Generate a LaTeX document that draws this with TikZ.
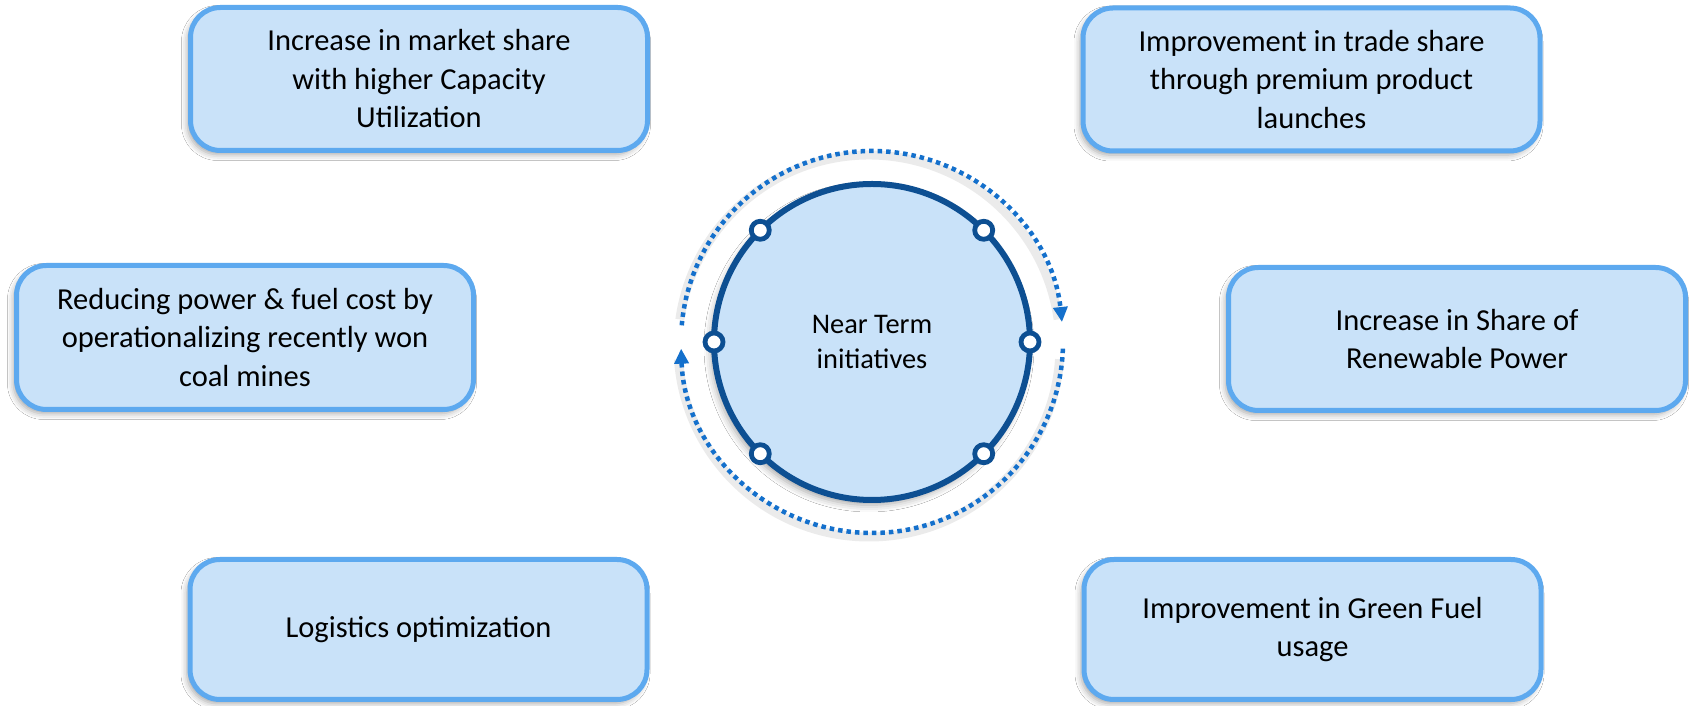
\documentclass[tikz,border=0pt]{standalone}
\usepackage{fontspec}
\setmainfont{Carlito}
\usetikzlibrary{shadows.blur,arrows.meta}
\definecolor{boxfill}{HTML}{C9E2F9}
\definecolor{boxline}{HTML}{5DA9EF}
\definecolor{ringline}{HTML}{0D4F92}
\definecolor{arcline}{HTML}{1470CC}
\begin{document}
\begin{tikzpicture}[x=1pt,y=1pt,
  card/.style={draw=boxline, fill=boxfill, line width=5pt, rounded corners=30pt,
    minimum width=457pt, minimum height=143pt, align=center, inner sep=0pt,
    font=\fontsize{30.5}{38.5}\selectfont,
    blur shadow={shadow xshift=-3pt, shadow yshift=-4pt, shadow blur radius=6pt, shadow opacity=35}},
  hubstyle/.style={circle, draw=ringline, fill=boxfill, line width=6pt, minimum size=316pt,
    inner sep=0pt, outer sep=0pt, align=center, font=\fontsize{28.4}{35}\selectfont,
    blur shadow={shadow xshift=-3pt, shadow yshift=-5pt, shadow blur radius=7pt, shadow opacity=35}},
  knob/.style={circle, draw=ringline, fill=white, line width=4.8pt, minimum size=18pt, inner sep=0pt},
  cyclearc/.style={draw=arcline, line width=4.5pt, dash pattern=on 4.5pt off 4pt},
  arcshade/.style={draw=black, opacity=0.08, line width=9pt},
  tip/.style={-{Triangle[length=15pt,width=14pt]}}
]
\fill[white] (0,0) rectangle (1689,706);
\useasboundingbox (0,0) rectangle (1689,706);

\node[card] (b1) at (419,627) {Increase in market share\\with higher Capacity\\Utilization};
\node[card] (b2) at (1311.5,626.5) {Improvement in trade share\\through premium product\\launches};
\node[card, minimum height=144pt] (b3) at (245,368.5) {Reducing power \& fuel cost by\\operationalizing recently won\\coal mines};
\node[card, minimum height=143pt] (b4) at (1457,367) {Increase in Share of\\Renewable Power};
\node[card, minimum height=140pt] (b5) at (418.5,76.5) {Logistics optimization};
\node[card, minimum height=140pt] (b6) at (1312.5,76.5) {Improvement in Green Fuel\\usage};

\coordinate (c) at (872,364);
\draw[arcshade] ([shift={(172:191)}]c) ++(-3,-4) arc[start angle=172, end angle=8, radius=191];
\draw[arcshade] ([shift={(-4:191)}]c) ++(-3,-4) arc[start angle=-4, end angle=-176, radius=191];

\node[hubstyle] (hub) at (c) {Near Term\\initiatives};
\foreach \a in {0,45,135,180,225,315} {
  \node[knob] at (hub.\a) {};
}

\draw[cyclearc, tip] ([shift={(175:191)}]c) arc[start angle=175, end angle=6, radius=191];
\draw[cyclearc, tip] ([shift={(-2:191)}]c) arc[start angle=-2, end angle=-178, radius=191];
\end{tikzpicture}
\end{document}
